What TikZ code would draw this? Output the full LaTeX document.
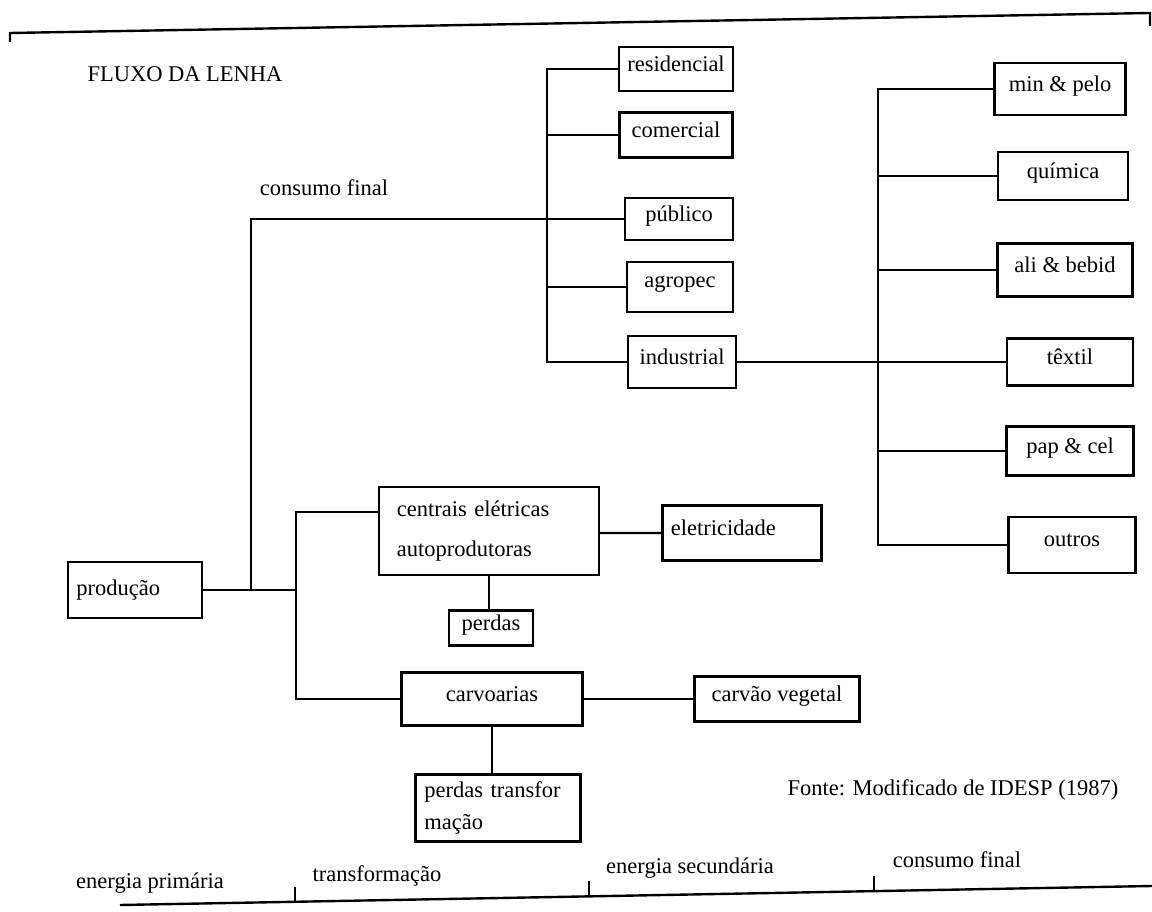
\documentclass[tikz,border=0pt]{standalone}
\usepackage{fontspec}
\setmainfont{Liberation Serif}
\usetikzlibrary{positioning}

\begin{document}
\begin{tikzpicture}[
      x=0.025cm, y=-0.025cm,
      every node/.style={font=\fontsize{16}{20}\selectfont},
      caixa/.style n args={2}{draw, line width=1.7pt, inner xsep=6pt,
        minimum width=#1*0.025cm, minimum height=#2*0.025cm},
      topo/.style={text depth=7pt},
      linha/.style={line width=1.7pt}
    ]
      \useasboundingbox (0,0) rectangle (1152,912);

      % moldura de cima e de baixo
      \draw[linha] (10,42) -- (10,33) -- (1150,13) -- (1150,26);
      \draw[linha] (120,905) -- (1152,886);
      \draw[linha] (295,901) -- (295,887);
      \draw[linha] (589,896) -- (589,881);
      \draw[linha] (874,891) -- (874,876);

      \node (titulo) at (185,74) {FLUXO DA LENHA};
      \node (cfinal) at (324,188) {consumo final};
      \node (fonte) at (953,790) {Fonte: Modificado de IDESP (1987)};

      % energia primaria e transformacao
      \node[caixa={134}{56}, text width=2.93cm, align=left] (prod) at (135,590) {produção};
      \node[caixa={220}{88}, inner xsep=0.45cm, text width=4.6cm, align=left] (cen) at (489,531)
        {centrais elétricas\\[8pt]autoprodutoras};
      \node[caixa={84}{33}, topo] (per) at (491,628) {perdas};
      \node[caixa={181}{53}, topo] (car) at (492,699) {carvoarias};
      \node[caixa={165}{67}, inner xsep=0.22cm, text width=3.68cm, align=left] (pt) at (498,808)
        {perdas transfor\\[3pt]mação};
      \node[caixa={159}{55}, topo, text width=3.55cm, align=left] (ele) at (742,533) {eletricidade};
      \node[caixa={165}{45}, topo] (cv) at (777,699) {carvão vegetal};

      % consumo final
      \node[caixa={113}{44}, topo] (res) at (676,69) {residencial};
      \node[caixa={113}{45}, topo] (com) at (676,135) {comercial};
      \node[caixa={108}{42}, topo] (pub) at (679,219) {público};
      \node[caixa={106}{50}, topo] (agr) at (680,287) {agropec};
      \node[caixa={108}{52}, topo] (ind) at (682,362) {industrial};

      % ramos industriais
      \node[caixa={131}{52}, topo] (mmp) at (1060,89) {min \& pelo};
      \node[caixa={130}{48}, topo] (qui) at (1063,176) {química};
      \node[caixa={135}{53}, topo] (ali) at (1065,270) {ali \& bebid};
      \node[caixa={126}{47}, topo] (tex) at (1070,362) {têxtil};
      \node[caixa={127}{49}, topo] (pap) at (1070,451) {pap \& cel};
      \node[caixa={127}{56}, topo] (out) at (1072,545) {outros};

      \coordinate (jc) at (251,590);
      \coordinate (jt) at (296,590);
      \coordinate (bc) at (547,0);
      \coordinate (bi) at (878,0);

      \draw[linha] (prod) -- (jt);
      \draw[linha] (jc) |- (pub.west);
      \draw[linha] (res.west) -| (bc |- ind.west) -- (ind.west);
      \draw[linha] (com.west) -- (com.west -| bc);
      \draw[linha] (agr.west) -- (agr.west -| bc);

      \draw[linha] (ind.east) -- (tex.west);
      \draw[linha] (mmp.west) -| (bi |- out.west) -- (out.west);
      \draw[linha] (qui.west) -- (qui.west -| bi);
      \draw[linha] (ali.west) -- (ali.west -| bi);
      \draw[linha] (pap.west) -- (pap.west -| bi);

      \draw[linha] ([yshift=0.48cm]cen.west) -| (jt) |- (car.west);
      \draw[linha] ([yshift=-0.05cm]cen.east) -- (ele.west);
      \draw[linha] (cen.south) -- (cen.south |- per.north);
      \draw[linha] (car) -- (cv);
      \draw[linha] (car.south) -- (car.south |- pt.north);

      \node (eprim) at (150,883) {energia primária};
      \node (transf) at (377,876) {transformação};
      \node (esec) at (690,868) {energia secundária};
      \node (cfim) at (957,860) {consumo final};
    \end{tikzpicture}
\end{document}
